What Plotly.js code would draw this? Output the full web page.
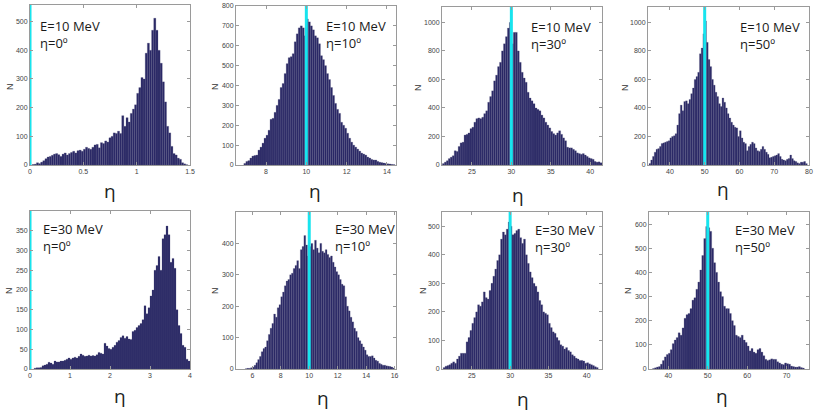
<!DOCTYPE html>
<html><head><meta charset="utf-8">
<script src="https://cdn.plot.ly/plotly-3.0.1.min.js"></script>
<style>html,body{margin:0;padding:0;background:#fff;}#c{width:816px;height:411px;}</style>
</head><body><div id="c"></div>
<script>
// ---- data ----
const energyLabels = ['E=10 MeV','E=10 MeV','E=10 MeV','E=10 MeV','E=30 MeV','E=30 MeV','E=30 MeV','E=30 MeV'];
const angleLabels = ['η=0º','η=10º','η=30º','η=50º','η=0º','η=10º','η=30º','η=50º'];
const trueAngles = [0,10,30,50,0,10,30,50];
const binStarts = [0.02, 6.9, 21.25, 34.0, 0.1, 5.5, 21.25, 36.0];
const binWidths = [0.02, 0.1, 0.25, 0.5, 0.05, 0.125, 0.25, 0.5];

const counts1 = [2,3,8,5,10,15,22,28,30,34,38,40,36,30,38,42,35,40,44,48,42,50,52,48,55,62,58,55,62,70,72,60,78,75,84,80,95,100,112,110,118,110,172,135,165,150,180,195,210,250,270,305,300,390,425,400,470,512,470,400,355,290,220,135,112,65,40,35,24,20,8,4,1];
const counts2 = [8,18,22,35,45,48,50,75,90,110,135,150,175,230,235,265,300,330,390,410,460,510,540,545,560,620,660,690,700,690,650,735,720,700,680,650,640,610,550,530,500,460,430,390,350,310,280,260,215,200,185,160,135,115,100,90,80,70,60,55,50,40,35,28,25,25,18,14,12,10,8,6,5,3,2];
const counts3 = [10,20,30,45,55,65,100,95,130,155,160,210,215,225,255,265,300,325,330,325,335,360,380,440,480,520,590,630,690,720,800,850,900,960,1000,850,930,930,800,720,650,610,580,510,470,450,430,400,390,380,350,330,300,280,260,235,220,210,225,240,215,190,170,125,120,120,110,100,85,80,75,80,70,60,50,45,40,25,20,22,15];
const counts4 = [10,35,60,90,110,115,130,150,155,160,165,170,190,200,205,220,280,360,420,380,445,450,430,460,500,540,600,620,650,780,820,920,1010,860,740,690,600,560,510,480,430,410,470,440,400,360,330,300,280,265,260,200,240,190,160,150,100,130,145,160,150,120,100,95,110,130,110,90,75,50,55,60,65,70,80,60,40,35,30,40,45,70,45,30,25,15,10,20,20,25,10];
const counts5 = [2,3,3,4,8,10,12,17,15,12,20,18,18,20,20,22,25,28,25,28,30,28,32,38,35,32,33,35,33,34,33,36,42,40,38,65,58,52,50,55,60,68,72,80,84,78,82,76,75,95,98,105,110,115,125,160,140,155,185,200,250,262,285,250,330,340,362,340,270,280,255,150,110,90,60,55,25,20];
const counts6 = [1,2,2,4,6,12,20,30,40,55,65,70,90,110,130,145,175,165,195,205,230,245,265,280,285,300,305,320,330,345,320,380,390,425,395,360,390,400,380,410,385,370,400,375,370,380,365,355,360,340,325,310,300,285,270,265,230,200,185,165,150,130,120,100,90,80,70,60,45,40,40,42,35,28,25,18,15,12,12,10,9,8,6,3];
const counts7 = [5,10,12,15,20,25,20,35,45,55,55,55,95,110,135,160,180,200,225,220,235,270,250,245,275,300,325,350,380,400,455,480,470,490,515,500,470,475,485,490,460,440,455,400,370,340,320,300,290,270,240,225,200,195,190,160,145,130,125,110,100,85,80,70,75,65,60,50,45,38,35,30,30,28,20,22,18,15,12,8,5];
const counts8 = [2,5,8,10,20,35,50,60,65,80,105,120,130,150,140,170,210,225,230,250,285,295,330,360,410,470,540,590,585,570,500,440,400,360,320,300,260,250,250,230,200,180,140,135,130,140,120,110,95,75,85,70,65,80,85,70,55,40,35,38,42,40,40,30,25,20,18,25,22,20,12,10,8,8,10,6,4];

const xTickVals = [[0,0.5,1,1.5],[8,10,12,14],[25,30,35,40],[40,50,60,70,80],[0,1,2,3,4],[6,8,10,12,14,16],[25,30,35,40],[40,50,60,70]];
const yTickVals = [[0,100,200,300,400,500],[0,100,200,300,400,500,600,700,800],[0,200,400,600,800,1000],[0,200,400,600,800,1000],[0,50,100,150,200,250,300,350],[0,100,200,300,400],[0,100,200,300,400,500],[0,100,200,300,400,500,600]];

// ---- layout geometry (pixels) ----
const W = 816, H = 411;
const boxes = [ // left, right, top, bottom
  [30,190,5,165],[236,396,6,165],[442,602,7,165],[648,809,7,165],
  [30,190,211,369],[236,396,212,369],[442,602,212,369],[649,809,212,369]];
const xRanges = [[0,1.5],[6.51,14.45],[21.2,41.5],[33.7,80],[0,4],[4.85,16.1],[21.1,42],[35.1,75.7]];
const yRanges = [[0,558],[0,800],[0,1108],[0,1108],[0,400],[0,500],[0,550],[0,650]];
const textPos = [ // left x, top y of the two-line label
  [38,15],[324,15],[529,16],[738,16],
  [41,218],[333,218],[533,219],[733,219]];
const nPos = [[10,87],[215,87],[418,87],[625,88],[9,291],[215,291],[423,291],[628,291]];
const etaPos = [[110,191],[315,191],[518,195],[723,189],[120,396],[323,398],[523,399],[722,396]];

const allCounts = [counts1,counts2,counts3,counts4,counts5,counts6,counts7,counts8];
const tickFont = {family:'Liberation Sans Narrow, Arial Narrow, Liberation Sans, Arial', size:7, color:'#444'};
const labelFont = {family:'Open Sans, Lato, sans-serif', size:13, color:'#1a1a1a'};

const data = [], layout = {
  width: W, height: H, margin:{l:0,r:0,t:0,b:0}, paper_bgcolor:'#fff', plot_bgcolor:'#fff',
  showlegend:false, bargap:0, annotations:[], shapes:[]
};

allCounts.forEach((cnt, k) => {
  const n = k+1, sfx = n===1 ? '' : String(n);
  const centers = cnt.map((_, i) => binStarts[k] + (i+0.5)*binWidths[k]);
  data.push({type:'bar', x:centers, y:cnt, width:binWidths[k], xaxis:'x'+sfx, yaxis:'y'+sfx,
    marker:{color:'#2a2866', line:{color:'#55557c', width:0.25}}, hoverinfo:'skip'});
  data.push({type:'scatter', mode:'lines', x:[trueAngles[k],trueAngles[k]], y:[yRanges[k][0], yRanges[k][1]],
    xaxis:'x'+sfx, yaxis:'y'+sfx, line:{color:'#18e4ee', width:3}, cliponaxis:false, hoverinfo:'skip'});
  const b = boxes[k];
  const common = {showline:true, linecolor:'#9a9a9a', linewidth:1, mirror:'ticks', ticks:'inside', ticklen:3,
    tickcolor:'#9a9a9a', showgrid:false, zeroline:false, tickfont:tickFont, fixedrange:true};
  layout['xaxis'+sfx] = Object.assign({}, common, {domain:[b[0]/W, b[1]/W], range:xRanges[k], anchor:'y'+sfx,
    tickvals:xTickVals[k], ticktext:xTickVals[k].map(String)});
  layout['yaxis'+sfx] = Object.assign({}, common, {domain:[1-b[3]/H, 1-b[2]/H], range:yRanges[k], anchor:'x'+sfx,
    tickvals:yTickVals[k], ticktext:yTickVals[k].map(String)});
  const tp = textPos[k];
  layout.annotations.push({xref:'paper', yref:'paper', x:tp[0]/W, y:1-tp[1]/H, xanchor:'left', yanchor:'top',
    align:'left', text:energyLabels[k] + '<br>' + angleLabels[k], showarrow:false, font:labelFont});
  layout.annotations.push({xref:'paper', yref:'paper', x:nPos[k][0]/W, y:1-nPos[k][1]/H, xanchor:'center', yanchor:'middle',
    text:'N', textangle:-90, showarrow:false, font:{family:'Liberation Sans, Arial', size:9, color:'#333'}});
  layout.annotations.push({xref:'paper', yref:'paper', x:etaPos[k][0]/W, y:1-etaPos[k][1]/H, xanchor:'center', yanchor:'middle',
    text:'η', showarrow:false, font:{family:'Open Sans, Lato, sans-serif', size:19, color:'#222'}});
});

Plotly.newPlot('c', data, layout, {staticPlot:true, displayModeBar:false});
</script></body></html>
